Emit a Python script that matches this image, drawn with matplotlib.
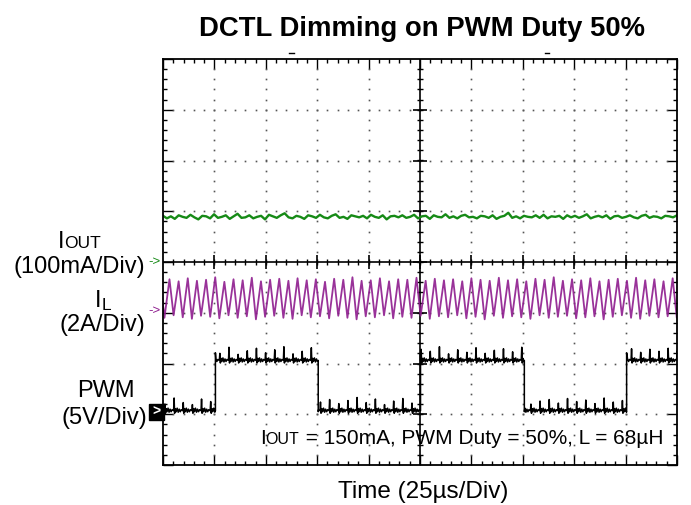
import numpy as np
import matplotlib.pyplot as plt
from matplotlib.patches import Rectangle

plt.rcParams['font.family'] = ['Liberation Sans', 'DejaVu Sans']

# ---- values (divisions: x 0..10, y 0..8) ----
pwm_rise = [1.02, 5.01, 9.02]
pwm_fall = [3.02, 7.03]
pwm_low = 1.07
pwm_high = 2.06
pwm_spike = [0.2, 0.13, 0.25, 0.16, 0.12, 0.23, 0.18, 0.14, 0.26, 0.12,
             0.19, 0.24, 0.15, 0.21, 0.27, 0.13, 0.18, 0.25, 0.17, 0.22,
             0.14, 0.2, 0.26, 0.16, 0.23, 0.12, 0.19, 0.24, 0.15, 0.22,
             0.18, 0.27, 0.13, 0.21, 0.16, 0.25, 0.14, 0.2, 0.23, 0.17,
             0.26, 0.13, 0.19, 0.22, 0.15, 0.24, 0.18, 0.21, 0.14, 0.25,
             0.17, 0.2, 0.23, 0.16, 0.22, 0.18, 0.24, 0.19]

sw_period = 0.178
sw_start = -0.15
il_peak = [3.64, 3.66, 3.62, 3.68, 3.63, 3.65, 3.7, 3.61, 3.66, 3.64,
           3.69, 3.62, 3.65, 3.67, 3.63, 3.68, 3.64, 3.66, 3.61, 3.67,
           3.65, 3.7, 3.63, 3.64, 3.68, 3.62, 3.66, 3.65, 3.69, 3.63,
           3.67, 3.64, 3.66, 3.62, 3.68, 3.65, 3.63, 3.69, 3.64, 3.66,
           3.62, 3.67, 3.65, 3.7, 3.63, 3.66, 3.64, 3.68, 3.62, 3.65,
           3.67, 3.63, 3.69, 3.64, 3.66, 3.62, 3.68, 3.65]
il_valley = [2.93, 2.9, 2.95, 2.91, 2.88, 2.94, 2.92, 2.89, 2.95, 2.9,
             2.93, 2.87, 2.92, 2.94, 2.9, 2.88, 2.95, 2.91, 2.93, 2.89,
             2.94, 2.9, 2.87, 2.93, 2.91, 2.95, 2.89, 2.92, 2.9, 2.94,
             2.88, 2.93, 2.91, 2.95, 2.89, 2.92, 2.87, 2.94, 2.9, 2.93,
             2.91, 2.88, 2.95, 2.9, 2.92, 2.94, 2.89, 2.91, 2.93, 2.87,
             2.92, 2.95, 2.9, 2.88, 2.94, 2.91, 2.93, 2.9]

iout_level = 4.89
iout_dev = [2, -3, 1, -4, 3, 0, -2, 4, -1, -5, 2, 1, -3, 5, -2, 0, 3, -4, 1, 6,
            -2, -1, 3, -3, 0, 2, -5, 4, 1, -2, 3, 7, -1, -3, 2, 0, -4, 3, 1, -2,
            4, -1, -3, 2, 5, -2, 0, -4, 3, 1, -1, 2, -3, 4, 0, -2, 3, -5, 1, 2,
            -1, 3, -2, 0, 4, -3, 1, 2, -4, 3, 0, -1, 5, -2, 1, -3, 2, 4, -1, 0,
            -3, 2, 1, -2, 3, -4, 0, 2, 8, -2, 1, -3, 2, 0, -1, 3, -2, 4, -3, 1,
            0, 2, -4, 3, -1, 2, -2, 1, 5, -3, 0, 2, -1, 3, -4, 1, 2, -2, 0, 3,
            -1, -3, 2, 4, -2, 1, 0, -3, 2, 1, -1, 3]

# small ringing shape after each switching edge on the PWM probe
ring_t = [0.0, 0.01, 0.02, 0.035, 0.05, 0.07, 0.09, 0.11, 0.13, 0.15]
ring_v = [0.0, None, -0.05, 0.04, -0.02, 0.05, -0.03, 0.03, -0.02, 0.02]

GREEN = '#168a16'
PURPLE = '#8e1c8e'

W, H = 691, 505
fig = plt.figure(figsize=(W / 100, H / 100), dpi=100)
ax = fig.add_axes([163 / W, 40 / H, 514 / W, 406 / H])
ax.set_xlim(0, 10)
ax.set_ylim(0, 8)

# frame + ticks
for s in ax.spines.values():
    s.set_linewidth(1.3)
ax.set_xticks(np.arange(0, 11, 1))
ax.set_xticks(np.arange(0, 10.01, 0.2), minor=True)
ax.set_yticks(np.arange(0, 9, 1))
ax.set_yticks(np.arange(0, 8.01, 0.2), minor=True)
ax.tick_params(which='both', direction='in', top=True, right=True,
               labelbottom=False, labelleft=False, width=1, color='black')
ax.tick_params(which='major', length=7)
ax.tick_params(which='minor', length=3.2)

# dotted graticule
dot = np.arange(0.2, 8.0, 0.2)
for gx in [1, 2, 3, 4, 6, 7, 8, 9]:
    ax.plot(np.full(dot.size, gx), dot, ls='none', marker='s', ms=1.2,
            color='#555555', mew=0)
dotx = np.arange(0.2, 10.0, 0.2)
for gy in [1, 2, 3, 5, 6, 7]:
    ax.plot(dotx, np.full(dotx.size, gy), ls='none', marker='s', ms=1.2,
            color='#555555', mew=0)

# centre cross with ticks
ax.axhline(4, color='black', lw=1.2)
ax.axvline(5, color='black', lw=1.2)
ax.plot(dotx, np.full(dotx.size, 4), ls='none', marker='|', ms=5, mew=1, color='black')
ax.plot(np.arange(1, 10), np.full(9, 4), ls='none', marker='|', ms=10, mew=1.2, color='black')
ax.plot(np.full(dot.size, 5), dot, ls='none', marker='_', ms=5, mew=1, color='black')
ax.plot(np.full(7, 5), np.arange(1, 8), ls='none', marker='_', ms=10, mew=1.2, color='black')

# IOUT trace
t_out = np.linspace(0, 10, len(iout_dev))
ax.plot(t_out, iout_level + np.array(iout_dev) / 100, color=GREEN, lw=1.7)

# IL trace
n = len(il_valley)
tv = sw_start + np.arange(n) * sw_period
tp = tv + 0.55 * sw_period
t_il = np.column_stack([tv, tp]).ravel()
v_il = np.column_stack([il_valley, il_peak]).ravel()
ax.plot(t_il, v_il, color=PURPLE, lw=1.3, alpha=0.9)

# PWM trace
def pwm_level(t):
    for r, f in zip(pwm_rise, pwm_fall + [99]):
        if r <= t < f:
            return pwm_high
    return pwm_low

pts = []
for k, tk in enumerate(tv):
    for dt, dv in zip(ring_t, ring_v):
        t = tk + dt
        if dv is None:
            dv = pwm_spike[k % len(pwm_spike)]
        pts.append((t, pwm_level(t) + dv))
for r in pwm_rise:
    pts += [(r - 1e-4, pwm_low), (r, pwm_high + 0.15)]
for f in pwm_fall:
    pts += [(f - 1e-4, pwm_high), (f, pwm_low - 0.02)]
pts.sort()
pt, pv = zip(*pts)
ax.plot(pt, pv, color='black', lw=1.1)

# trigger marks above the frame
for mx in [2.5, 7.47]:
    ax.plot([mx - 0.04, mx + 0.04], [8.12, 8.12], color='black', lw=1, clip_on=False)

# channel markers
ax.annotate('->', xy=(0, 4), xytext=(-1.5, 0), textcoords='offset points',
            ha='right', va='center', fontsize=9.5, color=GREEN)
ax.annotate('->', xy=(0, 3.04), xytext=(-1.5, 0), textcoords='offset points',
            ha='right', va='center', fontsize=9.5, color=PURPLE)
ax.add_patch(Rectangle((-0.28, 0.89), 0.29, 0.31, color='black',
                       clip_on=False, zorder=5))
ax.text(-0.135, 1.045, '>', color='white', fontsize=10, fontweight='bold',
        ha='center', va='center', zorder=6)


def rich_text(x, y, parts, ha='left'):
    # parts: (string, fontsize, shift down in px); x, y in image pixels
    r = fig.canvas.get_renderer()
    texts = [fig.text(0, 0, s, fontsize=fs, va='baseline') for s, fs, dy in parts]
    widths = [t.get_window_extent(r).width for t in texts]
    total = sum(widths)
    if ha == 'center':
        x0 = x - total / 2
    elif ha == 'right':
        x0 = x - total
    else:
        x0 = x
    for t, w, (s, fs, dy) in zip(texts, widths, parts):
        t.set_position((x0 / W, (H - y - dy) / H))
        x0 += w


fig.text(422 / W, 1 - 36 / H, 'DCTL Dimming on PWM Duty 50%', ha='center',
         va='baseline', fontsize=19.8, fontweight='bold')
fig.text(423.5 / W, 1 - 498 / H, 'Time (25\u00b5s/Div)', ha='center',
         va='baseline', fontsize=17.5)

rich_text(79, 248, [('I', 17, 0), ('OUT', 12.5, 0)], ha='center')
fig.text(145 / W, 1 - 273 / H, '(100mA/Div)', ha='right', va='baseline', fontsize=17)
rich_text(103, 307, [('I', 17, 0), ('L', 12.5, 3)], ha='center')
fig.text(145 / W, 1 - 331 / H, '(2A/Div)', ha='right', va='baseline', fontsize=17)
fig.text(106 / W, 1 - 397 / H, 'PWM', ha='center', va='baseline', fontsize=17)
fig.text(147 / W, 1 - 424 / H, '(5V/Div)', ha='right', va='baseline', fontsize=17)

rich_text(663, 444, [('I', 15, 0), ('OUT', 11.5, 0),
                     (' = 150mA, PWM Duty = 50%, L = 68\u00b5H', 15, 0)], ha='right')

fig.savefig('out.png', dpi=100)
